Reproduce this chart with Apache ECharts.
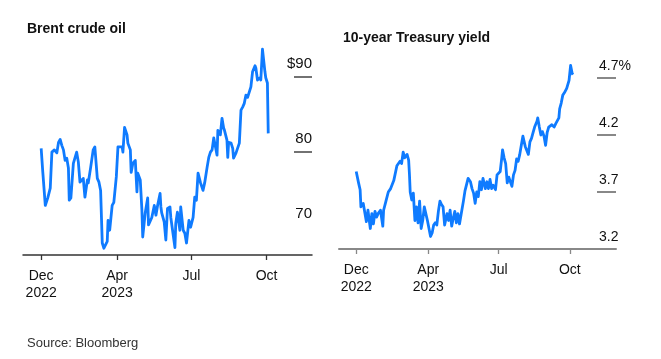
<!DOCTYPE html>
<html>
<head>
<meta charset="utf-8">
<script src="https://cdn.jsdelivr.net/npm/echarts@6/dist/echarts.min.js"></script>
<style>
html,body{margin:0;padding:0;background:#fff;}
#c{width:661px;height:359px;}
</style>
</head>
<body>
<div id="c"></div>
<script>
// x values: days from the first tick
const tickValues = [0, 92, 182, 273];
const tickLabels = ['Dec\n2022', 'Apr\n2023', 'Jul', 'Oct'];

const brentDays = [0,2,5,8,11,13,16,19,21,23,25,27,29,31,33,34,36,39,40,43,45,47,51,53,56,57,60,63,65,68,70,72,74,76,80,81,82,83,86,88,91,93,95,98,99,101,104,105,108,109,111,114,116,117,120,122,123,126,129,130,134,137,139,141,144,145,146,149,151,153,156,157,158,162,163,165,168,169,172,174,176,179,181,184,186,188,190,193,196,198,201,203,205,207,209,211,213,214,217,219,221,222,225,226,227,230,232,233,236,238,240,242,244,246,248,250,252,254,256,259,260,262,265,266,268,271,272,274,275];
const brentValues = [80.5,77.3,72.9,73.9,75.2,80.0,80.3,79.9,81.3,81.7,80.9,80.3,78.9,79.2,77.9,73.6,73.9,78.5,78.7,80.0,78.7,76.0,76.5,74.0,76.3,75.9,78.0,80.3,80.7,76.5,76.0,74.9,67.9,67.2,68.1,70.9,71.1,69.6,72.9,73.3,76.7,80.7,80.9,80.7,80.0,83.3,82.3,81.2,80.3,77.3,78.5,78.9,74.7,77.2,76.3,72.3,68.7,71.9,73.9,70.3,71.3,72.9,71.6,72.9,74.5,72.7,71.9,70.7,68.3,72.5,72.7,71.3,71.2,67.3,70.5,72.0,69.6,72.7,69.6,69.2,67.9,70.9,70.0,71.3,74.0,73.6,77.2,75.9,74.9,75.9,78.0,79.3,80.0,80.3,81.9,82.0,79.6,82.9,82.3,84.5,83.2,82.9,81.6,79.3,81.3,81.2,80.5,79.2,79.9,80.0,81.2,85.6,86.0,86.5,87.6,87.3,87.2,88.7,90.7,91.5,91.2,89.6,89.9,89.6,93.7,90.7,89.9,89.2,82.5];

const yieldDays = [0,3,5,6,9,13,15,18,20,22,24,26,28,31,34,35,38,41,44,48,52,54,56,58,60,62,65,67,68,69,71,73,75,77,79,81,83,85,87,89,91,93,95,97,99,101,103,105,107,109,111,113,116,118,120,122,124,126,128,130,132,134,137,139,141,143,146,148,150,152,154,156,158,160,162,165,167,169,171,173,175,178,180,182,184,186,187,189,191,193,195,197,199,201,203,205,207,209,211,213,216,218,220,222,224,226,228,231,232,234,236,238,240,242,244,246,248,250,253,255,257,259,260,262,264,266,269,271,272,274,276,277];
const yieldValues = [3.88,3.78,3.72,3.57,3.60,3.44,3.54,3.38,3.51,3.42,3.53,3.48,3.51,3.54,3.40,3.54,3.62,3.70,3.73,3.80,3.93,3.92,3.97,3.95,4.05,4.00,4.03,3.98,3.86,3.70,3.63,3.69,3.45,3.57,3.43,3.62,3.38,3.45,3.57,3.56,3.45,3.38,3.31,3.34,3.41,3.43,3.41,3.53,3.62,3.59,3.57,3.41,3.51,3.45,3.54,3.40,3.47,3.53,3.43,3.51,3.42,3.50,3.62,3.71,3.72,3.82,3.79,3.73,3.69,3.60,3.70,3.66,3.79,3.72,3.82,3.73,3.79,3.73,3.81,3.73,3.76,3.72,3.85,3.86,3.88,4.00,4.07,4.00,3.95,3.78,3.83,3.79,3.75,3.85,3.89,3.99,3.97,4.03,4.11,4.19,4.10,4.11,4.03,4.14,4.17,4.22,4.27,4.32,4.35,4.27,4.20,4.23,4.19,4.11,4.22,4.27,4.26,4.29,4.27,4.30,4.29,4.35,4.43,4.48,4.55,4.57,4.61,4.62,4.68,4.81,4.74,4.73];

const brentLabelValues = [70, 80, 90];
const brentLineValues = [80, 90];
const yieldLabelValues = [3.2, 3.7, 4.2, 4.7];
const yieldLineValues = [3.7, 4.2, 4.7];

const FONT = '"Liberation Sans", Arial, Helvetica, sans-serif';
const BLUE = '#0f7bff';

function pairs(xs, ys) { return xs.map((x, i) => [x, ys[i]]); }
function xLabel(v) { const i = tickValues.indexOf(v); return i >= 0 ? tickLabels[i] : ''; }

function xAxis(gi, max, lineColor, lineWidth) {
  return {
    type: 'value', gridIndex: gi, min: -22, max: max,
    axisLine: { show: true, onZero: false, lineStyle: { color: lineColor, width: lineWidth } },
    axisTick: { show: true, customValues: tickValues, length: 5, lineStyle: { color: lineColor, width: 1.3 } },
    axisLabel: { customValues: tickValues, formatter: xLabel, color: '#111', fontFamily: FONT, fontSize: 14, lineHeight: 17, margin: 13 },
    splitLine: { show: false }
  };
}

const chart = echarts.init(document.getElementById('c'), null, { renderer: 'canvas' });
chart.setOption({
  animation: false,
  backgroundColor: '#fff',
  title: [
    { text: 'Brent crude oil', left: 22, top: 17, textStyle: { fontFamily: FONT, fontSize: 14, fontWeight: 'bold', color: '#111' } },
    { text: '10-year Treasury yield', left: 338, top: 26, textStyle: { fontFamily: FONT, fontSize: 14, fontWeight: 'bold', color: '#111' } },
    { text: 'Source: Bloomberg', left: 22, top: 332, textStyle: { fontFamily: FONT, fontSize: 13, fontWeight: 'normal', color: '#333' } }
  ],
  grid: [
    { left: 23, right: 349, top: 47, bottom: 104 },
    { left: 339, right: 45, top: 60, bottom: 110 }
  ],
  xAxis: [ xAxis(0, 328, '#333', 1.5), xAxis(1, 332, '#888', 2) ],
  yAxis: [
    {
      type: 'value', gridIndex: 0, position: 'left', offset: -289, min: 66.3, max: 94,
      axisLine: { show: false },
      splitLine: { show: false },
      axisTick: { show: true, inside: false, length: 18, customValues: brentLineValues, lineStyle: { color: '#444', width: 1.5 } },
      axisLabel: { inside: false, customValues: brentLabelValues, margin: 0, align: 'right', verticalAlign: 'bottom', lineHeight: 26,
        formatter: v => v === 90 ? '$90' : String(v), color: '#111', fontFamily: FONT, fontSize: 15 }
    },
    {
      type: 'value', gridIndex: 1, position: 'left', offset: -277, min: 3.2, max: 4.858,
      axisLine: { show: false },
      splitLine: { show: false },
      axisTick: { show: true, inside: false, length: 19, customValues: yieldLineValues, lineStyle: { color: '#888', width: 2 } },
      axisLabel: { inside: false, customValues: yieldLabelValues, margin: 17, align: 'left', verticalAlign: 'bottom', lineHeight: 24,
        formatter: v => v === 4.7 ? '4.7%' : v.toFixed(1), color: '#111', fontFamily: FONT, fontSize: 14 }
    }
  ],
  series: [
    { type: 'line', xAxisIndex: 0, yAxisIndex: 0, data: pairs(brentDays, brentValues), showSymbol: false, symbol: 'none',
      lineStyle: { color: BLUE, width: 2.8, join: 'round' } },
    { type: 'line', xAxisIndex: 1, yAxisIndex: 1, data: pairs(yieldDays, yieldValues), showSymbol: false, symbol: 'none',
      lineStyle: { color: BLUE, width: 2.8, join: 'round' } }
  ]
});
</script>
</body>
</html>
